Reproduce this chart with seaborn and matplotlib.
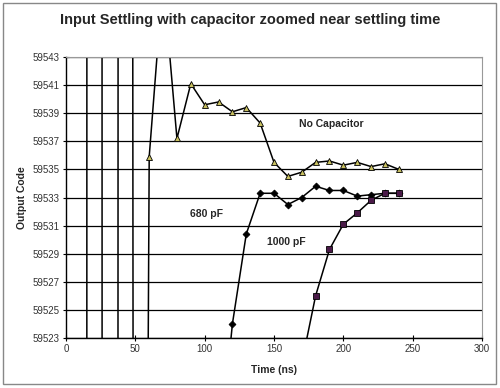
import numpy as np
import pandas as pd
import matplotlib
matplotlib.use("Agg")
import matplotlib.pyplot as plt
import seaborn as sns

# values (ns, output code); early ringing is off-scale
t_nocap = [10, 20, 30, 40, 50, 60, 70, 80, 90, 100, 110, 120, 130, 140, 150,
           160, 170, 180, 190, 200, 210, 220, 230, 240]
v_nocap = [55500, 63500, 56900, 60400, 59350, 59535.9, 59548.6, 59537.2, 59541.1,
           59539.6, 59539.8, 59539.1, 59539.4, 59538.3, 59535.5, 59534.5,
           59534.8, 59535.5, 59535.6, 59535.3, 59535.5, 59535.2, 59535.4, 59535.0]

t_680 = [110, 120, 130, 140, 150, 160, 170, 180, 190, 200, 210, 220, 230, 240]
v_680 = [59514, 59524.0, 59530.4, 59533.3, 59533.3, 59532.5, 59533.0, 59533.8,
         59533.5, 59533.5, 59533.1, 59533.2, 59533.3, 59533.3]

t_1000 = [170, 180, 190, 200, 210, 220, 230, 240]
v_1000 = [59521.2, 59526.0, 59529.3, 59531.1, 59531.9, 59532.8, 59533.3, 59533.3]

labels = ["No Capacitor", "680 pF", "1000 pF"]

sns.set_style("white")
plt.rcParams["font.family"] = ["Liberation Sans", "DejaVu Sans"]

fig = plt.figure(figsize=(5, 3.88), dpi=100)
ax = fig.add_axes([66 / 500, 1 - 338 / 388, 416 / 500, 281 / 388])

series = [
    (t_nocap, v_nocap, "^", "#c8c060", 3.8),
    (t_680, v_680, "D", "black", 3.5),
    (t_1000, v_1000, "s", "#4a1a48", 4.5),
]
for t, v, mk, fc, ms in series:
    df = pd.DataFrame({"t": t, "v": v})
    sns.lineplot(data=df, x="t", y="v", ax=ax, color="black", lw=1.1,
                 marker=mk, markersize=ms, markerfacecolor=fc,
                 markeredgecolor="black", markeredgewidth=0.6)

ax.set_xlim(0, 300)
ax.set_ylim(59523, 59543)
ax.set_xticks(np.arange(0, 301, 50))
ax.set_yticks(np.arange(59523, 59544, 2))
ax.yaxis.grid(True, color="black", lw=0.9)
ax.xaxis.grid(False)
ax.tick_params(axis="both", direction="inout", length=5, width=0.8,
               labelsize=7, labelcolor="#333333", color="black", pad=2)
ax.tick_params(axis="y", left=True)
ax.tick_params(axis="x", bottom=True)
for s in ["top", "right"]:
    ax.spines[s].set_color("#999999")
    ax.spines[s].set_linewidth(0.8)
for s in ["left", "bottom"]:
    ax.spines[s].set_color("black")
    ax.spines[s].set_linewidth(1.0)

ax.set_xlabel("Time (ns)", fontsize=7.5, fontweight="bold", labelpad=8)
ax.set_ylabel("Output Code", fontsize=7.5, fontweight="bold", labelpad=4)

ax.text(191, 59538.2, labels[0], fontsize=7.5, fontweight="bold", ha="center", va="center")
ax.text(101, 59531.8, labels[1], fontsize=7.5, fontweight="bold", ha="center", va="center")
ax.text(158.6, 59529.8, labels[2], fontsize=7.5, fontweight="bold", ha="center", va="center")

fig.suptitle("Input Settling with capacitor zoomed near settling time",
             x=0.5, y=1 - 20 / 388, va="center", fontsize=10.5, fontweight="bold")

fig.patches.append(plt.Rectangle((3 / 500, 4 / 388), 493 / 500, 381 / 388,
                                 transform=fig.transFigure, fill=False,
                                 edgecolor="#888888", lw=1))

fig.savefig("out.png", dpi=100)
